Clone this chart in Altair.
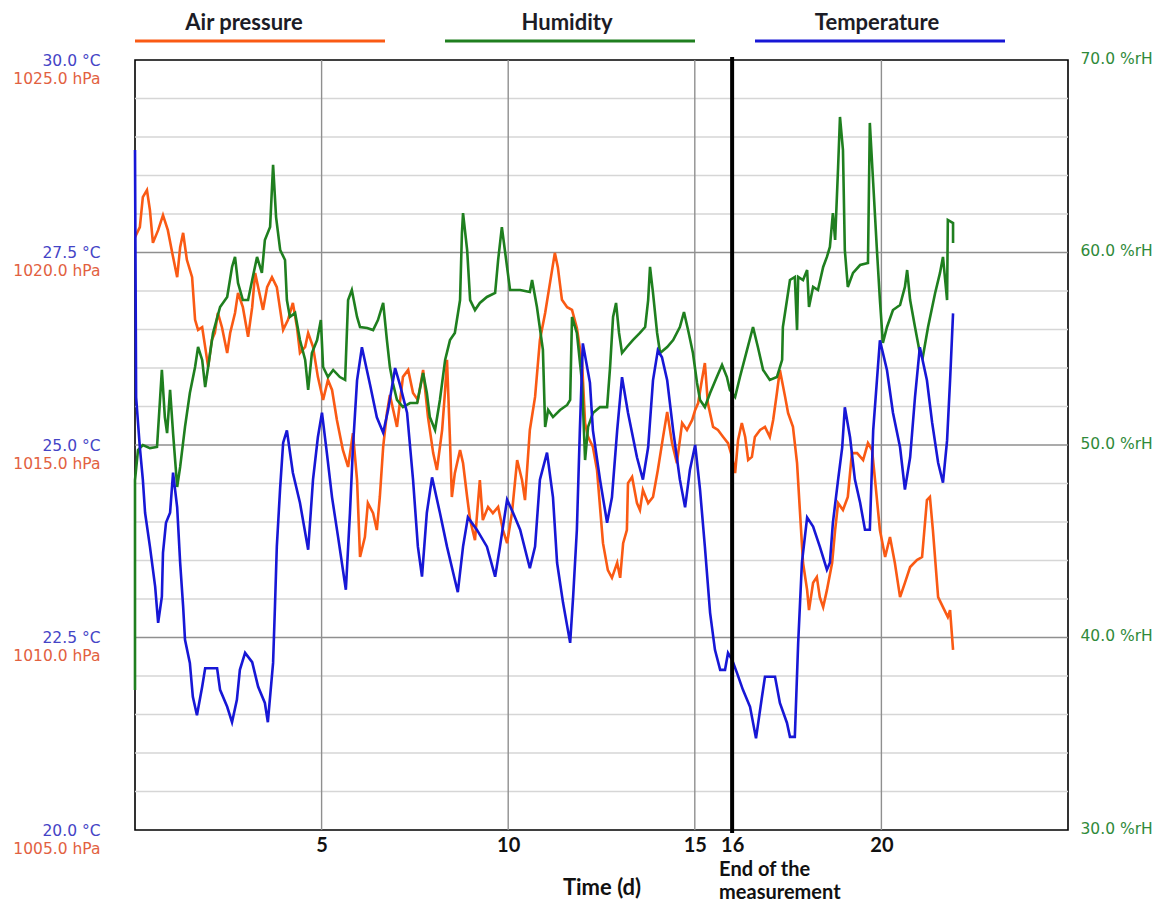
import altair as alt
import pandas as pd

# ---- measurement series (time in days) ----
press_day = [0.00, 0.13, 0.21, 0.32, 0.40, 0.48, 0.62, 0.75, 0.88, 1.02, 1.13, 1.21, 1.29, 1.39, 1.53,
             1.61, 1.69, 1.80, 1.88, 1.96, 2.06, 2.14, 2.22, 2.33, 2.47, 2.55, 2.68, 2.76, 2.89, 3.03,
             3.14, 3.22, 3.30, 3.43, 3.54, 3.67, 3.80, 3.89, 3.97, 4.10, 4.23, 4.34, 4.42, 4.56, 4.64,
             4.77, 4.90, 5.04, 5.17, 5.28, 5.41, 5.57, 5.71, 5.84, 5.95, 6.03, 6.16, 6.24, 6.38, 6.48,
             6.56, 6.65, 6.75, 6.83, 7.02, 7.18, 7.32, 7.45, 7.58, 7.72, 7.85, 7.99, 8.09, 8.23, 8.31,
             8.36, 8.44, 8.49, 8.57, 8.71, 8.79, 8.90, 8.98, 9.11, 9.24, 9.32, 9.46, 9.59, 9.73, 9.86,
             9.97, 10.10, 10.24, 10.37, 10.45, 10.58, 10.72, 10.85, 10.99, 11.12, 11.25, 11.33, 11.44,
             11.58, 11.71, 11.84, 11.98, 12.06, 12.14, 12.27, 12.38, 12.46, 12.54, 12.67, 12.78, 12.92,
             13.00, 13.08, 13.18, 13.21, 13.32, 13.45, 13.53, 13.61, 13.75, 13.88, 14.01, 14.15, 14.26,
             14.39, 14.52, 14.66, 14.79, 14.93, 15.01, 15.09, 15.19, 15.27, 15.35, 15.49, 15.62, 15.76,
             15.89, 16.00, 16.08, 16.16, 16.26, 16.35, 16.43, 16.53, 16.61, 16.75, 16.88, 17.01, 17.10,
             17.20, 17.28, 17.42, 17.50, 17.63, 17.74, 17.82, 17.90, 18.01, 18.06, 18.17, 18.27, 18.35,
             18.44, 18.54, 18.68, 18.76, 18.84, 18.97, 19.10, 19.21, 19.35, 19.51, 19.64, 19.75, 19.83,
             19.96, 20.10, 20.23, 20.36, 20.50, 20.63, 20.77, 20.95, 21.09, 21.22, 21.30, 21.38, 21.52,
             21.65, 21.78, 21.84, 21.92]
press_hpa = [1020.40, 1020.66, 1021.44, 1021.62, 1021.10, 1020.25, 1020.58, 1020.97, 1020.58, 1019.88,
             1019.36, 1020.14, 1020.51, 1019.81, 1019.36, 1018.25, 1017.99, 1018.06, 1017.55, 1017.03,
             1017.73, 1017.91, 1018.43, 1018.06, 1017.39, 1017.91, 1018.43, 1018.95, 1018.58, 1017.81,
             1018.58, 1019.47, 1019.10, 1018.51, 1019.10, 1019.36, 1019.10, 1018.51, 1017.99, 1018.25,
             1018.69, 1018.06, 1017.39, 1017.55, 1017.91, 1017.55, 1016.77, 1016.17, 1016.69, 1016.43,
             1015.65, 1014.87, 1014.43, 1015.31, 1014.09, 1012.09, 1012.61, 1013.49, 1013.23, 1012.79,
             1013.65, 1014.95, 1015.83, 1016.30, 1015.47, 1016.77, 1016.95, 1016.35, 1016.17, 1016.95,
             1015.73, 1014.79, 1014.35, 1015.39, 1016.43, 1017.21, 1015.13, 1013.65, 1014.27, 1014.87,
             1014.53, 1013.65, 1013.05, 1012.53, 1014.09, 1013.05, 1013.39, 1013.23, 1013.39, 1012.79,
             1012.45, 1013.23, 1014.61, 1014.09, 1013.57, 1015.39, 1016.25, 1017.73, 1018.43, 1019.21,
             1019.99, 1019.62, 1018.77, 1018.58, 1018.51, 1018.04, 1017.13, 1015.57, 1015.21, 1014.95,
             1014.35, 1013.39, 1012.45, 1011.75, 1011.55, 1011.94, 1011.55, 1012.45, 1012.79, 1014.01,
             1014.17, 1013.49, 1013.31, 1013.83, 1013.49, 1013.65, 1014.35, 1015.21, 1015.86, 1015.05,
             1014.53, 1015.57, 1015.39, 1015.65, 1015.91, 1016.09, 1016.69, 1017.13, 1016.09, 1015.47,
             1015.39, 1015.21, 1015.05, 1014.69, 1014.27, 1015.13, 1015.57, 1015.21, 1014.61, 1014.69,
             1015.21, 1015.39, 1015.47, 1015.21, 1015.65, 1016.35, 1016.95, 1016.25, 1015.83, 1015.47,
             1014.53, 1013.23, 1011.94, 1011.23, 1010.71, 1011.42, 1011.57, 1011.05, 1010.79, 1011.23,
             1011.94, 1012.79, 1013.49, 1013.31, 1013.65, 1014.79, 1014.79, 1014.61, 1015.05, 1014.87,
             1014.09, 1012.79, 1012.09, 1012.61, 1011.94, 1011.05, 1011.42, 1011.83, 1012.01, 1012.09,
             1013.57, 1013.65, 1012.79, 1011.05, 1010.79, 1010.53, 1010.71, 1009.68]

hum_day = [0.00, 0.00, 0.08, 0.21, 0.40, 0.59, 0.67, 0.72, 0.80, 0.86, 0.94, 1.02, 1.13, 1.21, 1.34,
           1.47, 1.61, 1.69, 1.80, 1.88, 1.96, 2.09, 2.28, 2.47, 2.60, 2.68, 2.76, 2.89, 3.03, 3.14,
           3.27, 3.40, 3.48, 3.62, 3.70, 3.78, 3.89, 4.02, 4.07, 4.15, 4.29, 4.42, 4.56, 4.64, 4.74,
           4.88, 4.98, 5.04, 5.17, 5.31, 5.49, 5.63, 5.71, 5.81, 5.95, 6.03, 6.22, 6.38, 6.51, 6.65,
           6.75, 6.83, 6.91, 7.02, 7.18, 7.37, 7.56, 7.72, 7.82, 7.90, 8.04, 8.17, 8.31, 8.44, 8.57,
           8.71, 8.76, 8.79, 8.90, 8.98, 9.11, 9.24, 9.43, 9.65, 9.73, 9.83, 9.91, 10.05, 10.32, 10.58,
           10.64, 10.77, 10.93, 10.99, 11.07, 11.20, 11.39, 11.58, 11.66, 11.71, 11.84, 11.98, 12.06,
           12.14, 12.27, 12.46, 12.65, 12.73, 12.81, 12.89, 12.97, 13.05, 13.18, 13.34, 13.53, 13.67,
           13.75, 13.80, 13.88, 13.99, 14.07, 14.26, 14.42, 14.60, 14.71, 14.82, 14.95, 15.06, 15.14,
           15.27, 15.41, 15.59, 15.73, 15.86, 15.94, 16.08, 16.21, 16.40, 16.56, 16.69, 16.83, 17.01,
           17.20, 17.34, 17.36, 17.47, 17.55, 17.68, 17.74, 17.77, 17.90, 18.01, 18.06, 18.17, 18.30,
           18.44, 18.54, 18.62, 18.70, 18.76, 18.84, 18.89, 18.97, 19.02, 19.10, 19.24, 19.43, 19.64,
           19.69, 19.78, 19.88, 19.96, 20.04, 20.15, 20.31, 20.50, 20.63, 20.69, 20.77, 20.90, 21.03,
           21.11, 21.25, 21.44, 21.57, 21.65, 21.76, 21.78, 21.92, 21.92]
hum_rh = [37.27, 48.18, 49.74, 50.00, 49.84, 49.90, 52.34, 53.90, 51.45, 50.62, 52.86, 50.62, 47.82,
          48.86, 50.94, 52.70, 54.05, 55.09, 54.42, 53.01, 54.05, 55.82, 57.17, 57.69, 59.25, 59.77,
          58.42, 57.53, 57.53, 58.57, 59.77, 58.94, 60.65, 61.32, 64.55, 61.84, 60.13, 59.61, 57.53,
          56.65, 56.86, 55.45, 54.42, 52.86, 54.78, 55.45, 56.49, 54.05, 53.53, 53.90, 53.53, 53.38,
          57.53, 58.05, 56.65, 56.13, 56.08, 55.97, 56.49, 57.38, 55.45, 54.05, 53.22, 52.34, 51.97,
          52.18, 52.18, 53.74, 52.70, 51.45, 50.78, 52.34, 54.42, 55.45, 55.82, 57.53, 61.01, 62.05,
          60.13, 57.53, 57.01, 57.38, 57.69, 57.90, 59.61, 61.32, 60.13, 58.05, 58.05, 57.95, 58.57,
          57.17, 54.94, 50.94, 51.82, 51.45, 51.82, 52.08, 52.34, 56.65, 55.82, 53.22, 49.22, 50.94,
          51.66, 51.97, 51.97, 54.05, 56.65, 57.38, 55.82, 54.78, 55.09, 55.45, 55.82, 56.13, 57.53,
          59.25, 57.90, 55.82, 54.78, 55.09, 55.45, 56.13, 56.91, 55.97, 54.78, 53.22, 52.34, 51.97,
          52.70, 53.53, 54.16, 53.53, 52.86, 52.49, 53.53, 54.94, 56.13, 55.09, 53.90, 53.38, 53.53,
          54.42, 56.13, 57.53, 58.57, 58.73, 55.97, 58.73, 58.57, 59.09, 57.17, 58.21, 58.05, 59.25,
          59.77, 60.29, 62.05, 60.65, 64.44, 67.04, 65.32, 60.13, 58.21, 58.94, 59.35, 59.45, 66.73,
          63.61, 60.13, 57.53, 55.30, 56.13, 57.01, 57.27, 58.21, 59.09, 57.53, 56.13, 54.78, 54.57,
          56.13, 57.90, 58.94, 59.77, 57.53, 61.69, 61.53, 60.49]

temp_day = [0.00, 0.03, 0.13, 0.21, 0.27, 0.40, 0.54, 0.62, 0.72, 0.75, 0.83, 0.94, 1.02, 1.13, 1.21,
            1.29, 1.34, 1.47, 1.55, 1.66, 1.80, 1.88, 2.20, 2.28, 2.47, 2.60, 2.73, 2.81, 2.95, 3.14,
            3.30, 3.48, 3.56, 3.70, 3.75, 3.80, 3.89, 3.97, 4.07, 4.23, 4.42, 4.64, 4.77, 4.90, 5.01,
            5.14, 5.28, 5.44, 5.65, 5.76, 5.84, 5.95, 6.08, 6.30, 6.48, 6.65, 6.78, 6.97, 7.10, 7.29,
            7.45, 7.58, 7.69, 7.82, 7.96, 8.17, 8.36, 8.57, 8.65, 8.79, 8.92, 9.16, 9.43, 9.65, 9.78,
            9.97, 10.13, 10.32, 10.58, 10.72, 10.85, 11.04, 11.20, 11.31, 11.47, 11.66, 11.74, 11.84,
            11.92, 12.00, 12.19, 12.27, 12.46, 12.65, 12.78, 12.92, 13.05, 13.21, 13.45, 13.61, 13.75,
            13.88, 14.01, 14.12, 14.26, 14.42, 14.60, 14.74, 14.87, 15.01, 15.14, 15.27, 15.41, 15.54,
            15.68, 15.81, 15.89, 16.00, 16.13, 16.29, 16.48, 16.64, 16.80, 16.88, 17.15, 17.28, 17.47,
            17.55, 17.68, 17.77, 17.87, 18.01, 18.17, 18.35, 18.54, 18.62, 18.70, 18.84, 18.95, 19.02,
            19.16, 19.29, 19.43, 19.56, 19.69, 19.78, 19.88, 19.96, 20.15, 20.31, 20.50, 20.63, 20.77,
            20.90, 21.03, 21.22, 21.36, 21.52, 21.65, 21.76, 21.84, 21.92]
temp_c = [28.83, 25.62, 24.97, 24.55, 24.12, 23.68, 23.16, 22.69, 23.03, 23.60, 23.99, 24.12, 24.64,
          24.19, 23.47, 22.90, 22.47, 22.17, 21.73, 21.49, 21.86, 22.10, 22.10, 21.82, 21.60, 21.40,
          21.69, 22.08, 22.30, 22.18, 21.86, 21.65, 21.40, 22.17, 22.90, 23.68, 24.45, 25.03, 25.19,
          24.64, 24.25, 23.64, 24.55, 25.10, 25.42, 24.90, 24.32, 23.81, 23.12, 24.12, 24.97, 25.84,
          26.27, 25.78, 25.36, 25.16, 25.45, 26.00, 25.78, 25.42, 24.55, 23.68, 23.29, 24.12, 24.58,
          24.12, 23.68, 23.25, 23.09, 23.68, 24.06, 23.90, 23.68, 23.29, 23.68, 24.29, 24.12, 23.90,
          23.40, 23.68, 24.55, 24.90, 24.32, 23.47, 22.95, 22.43, 23.03, 23.90, 25.19, 26.32, 25.81,
          25.19, 24.55, 23.99, 24.32, 25.19, 25.88, 25.42, 24.84, 24.55, 24.97, 25.84, 26.23, 26.14,
          25.84, 25.19, 24.55, 24.19, 24.68, 25.00, 24.42, 23.68, 22.82, 22.34, 22.08, 22.08, 22.30,
          22.21, 22.04, 21.82, 21.60, 21.19, 21.73, 21.99, 21.99, 21.65, 21.39, 21.21, 21.21, 22.43,
          23.47, 24.06, 23.94, 23.68, 23.38, 23.47, 23.99, 24.55, 24.97, 25.49, 25.10, 24.55, 24.25,
          23.90, 23.90, 25.19, 25.84, 26.36, 25.97, 25.42, 24.97, 24.42, 24.84, 25.62, 26.27, 25.84,
          25.29, 24.77, 24.51, 25.06, 25.84, 26.71]

# ---- axes / reference values ----
temp_ticks = [20.0, 22.5, 25.0, 27.5, 30.0]
press_ticks = [1005.0, 1010.0, 1015.0, 1020.0, 1025.0]
hum_ticks = [30.0, 40.0, 50.0, 60.0, 70.0]
day_ticks = [5, 10, 15, 16, 20]
day_grid = [5, 10, 15, 20]
temp_minor_grid = [20.5, 21.0, 21.5, 22.0, 23.0, 23.5, 24.0, 24.5, 25.5, 26.0, 26.5, 27.0,
                   28.0, 28.5, 29.0, 29.5]
temp_major_grid = [22.5, 25.0, 27.5]
end_day = [16]
end_label = ["End of the\nmeasurement"]

ORANGE, GREEN, BLUE = "#fa5a14", "#1f7f1f", "#1717d6"
LBL_FONT = "DejaVu Sans"
BOLD_FONT = "Lato"

W, H = 933, 770

xscale = alt.Scale(domain=[0, 25], nice=False, zero=False)
xaxis = alt.Axis(values=day_ticks, format="d", title="Time (d)", grid=False, ticks=False,
                 domain=False, labelFont=BOLD_FONT, labelFontWeight="bold", labelFontSize=20,
                 labelColor="#111111", labelPadding=5, labelOverlap=False, labelFlush=False,
                 titleFont=BOLD_FONT, titleFontWeight="bold", titleFontSize=22, titleColor="#111111",
                 titleX=W / 2, titleY=57, titleBaseline="middle", titleAlign="center")

t_scale = alt.Scale(domain=[20, 30], nice=False, zero=False)
p_scale = alt.Scale(domain=[1005, 1025], nice=False, zero=False)
h_scale = alt.Scale(domain=[30, 70], nice=False, zero=False)


def side_axis(values, unit, color, orient, offset, padding):
    return alt.Axis(values=values, orient=orient, title=None, grid=False, ticks=False, domain=False,
                    labelExpr=f"format(datum.value, '.1f') + ' {unit}'", labelColor=color,
                    labelFont=LBL_FONT, labelFontSize=15.5, labelOffset=offset,
                    labelPadding=padding, labelOverlap=False, labelFlush=False, labelBound=False,
                    labelAlign="right" if orient == "left" else "left")


t_axis = side_axis(temp_ticks, "°C", "#4444c6", "left", 0, 35)
p_axis = side_axis(press_ticks, "hPa", "#e2613f", "left", 18, 35)
h_axis = side_axis(hum_ticks, "%rH", "#2f8a3a", "right", -2, 12)

# ---- grid ----
minor = alt.Chart(pd.DataFrame({"g": temp_minor_grid})).mark_rule(
    color="#d6d6d6", strokeWidth=1.6).encode(y=alt.Y("g:Q", scale=t_scale, axis=None))
major = alt.Chart(pd.DataFrame({"g": temp_major_grid})).mark_rule(
    color="#8f8f8f", strokeWidth=1.6).encode(y=alt.Y("g:Q", scale=t_scale, axis=None))
vgrid = alt.Chart(pd.DataFrame({"day": day_grid})).mark_rule(
    color="#8f8f8f", strokeWidth=1.4).encode(x=alt.X("day:Q", scale=xscale, axis=xaxis))


def series(days, vals, color, scale, axis):
    df = pd.DataFrame({"day": days, "v": vals, "i": range(len(days))})
    return alt.Chart(df).mark_line(color=color, strokeWidth=2.6).encode(
        x=alt.X("day:Q", scale=xscale, axis=xaxis),
        y=alt.Y("v:Q", scale=scale, axis=axis),
        order="i:Q",
    )


pressure = series(press_day, press_hpa, ORANGE, p_scale, p_axis)
humidity = series(hum_day, hum_rh, GREEN, h_scale, h_axis)
temperature = series(temp_day, temp_c, BLUE, t_scale, t_axis)

# ---- end-of-measurement marker ----
end_df = pd.DataFrame({"day": end_day, "t": end_label})
end_rule = alt.Chart(end_df).mark_rule(color="black", strokeWidth=4).encode(
    x=alt.X("day:Q", scale=xscale, axis=xaxis), y=alt.value(-3), y2=alt.value(H + 3))
end_text = alt.Chart(end_df).mark_text(
    align="left", baseline="top", dx=-13, font=BOLD_FONT, fontWeight="bold", fontSize=20,
    lineBreak="\n", lineHeight=23, color="#111111").encode(
    x=alt.X("day:Q", scale=xscale, axis=xaxis), y=alt.value(H + 30), text="t:N")

# ---- header legend ----
legend_layers = []
for name, color, x0, x1, xc in [("Air pressure", ORANGE, 0, 250, 109),
                                ("Humidity", GREEN, 310, 560, 432),
                                ("Temperature", BLUE, 620, 870, 742)]:
    ldf = pd.DataFrame({"name": [name]})
    legend_layers.append(alt.Chart(ldf).mark_rule(color=color, strokeWidth=3).encode(
        x=alt.value(x0), x2=alt.value(x1), y=alt.value(-19)))
    legend_layers.append(alt.Chart(ldf).mark_text(
        font=BOLD_FONT, fontWeight="bold", fontSize=22, color="#1c1c26",
        align="center", baseline="middle").encode(
        x=alt.value(xc), y=alt.value(-37), text="name:N"))

chart = alt.layer(
    minor, major, vgrid, pressure, humidity, temperature, end_rule, end_text, *legend_layers
).resolve_scale(y="independent").properties(
    width=W, height=H,
    autosize=alt.AutoSizeParams(type="none"),
    padding={"left": 135, "top": 60, "right": 86, "bottom": 75},
    background="white",
).configure_view(stroke="black", strokeWidth=1.6)

chart.save("out.html", embed_options={"renderer": "svg", "actions": False})
